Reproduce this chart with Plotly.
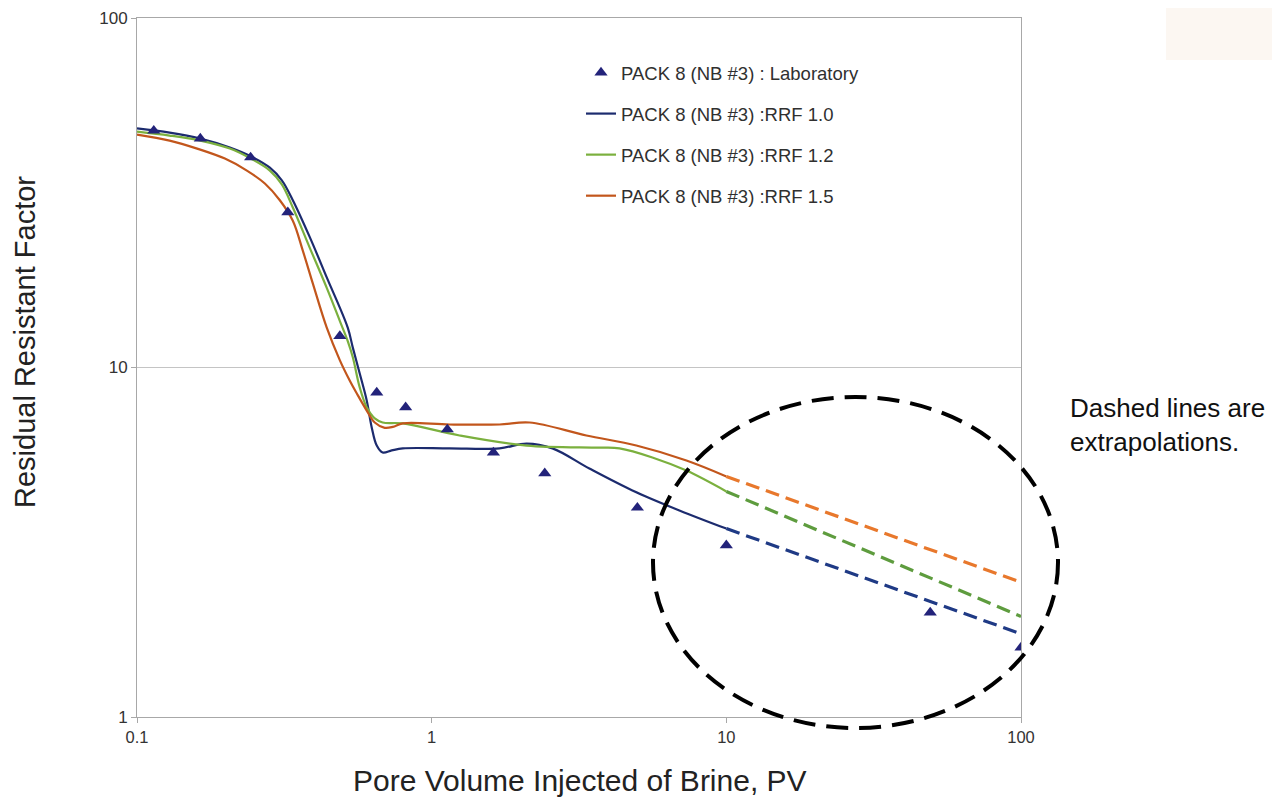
import plotly.graph_objects as go

# ---- data ----
lab_x = [0.114, 0.164, 0.243, 0.325, 0.488, 0.651, 0.816, 1.13, 1.62, 2.42, 4.99, 10.0, 49.2, 100.0]
lab_y = [47.6, 45.2, 39.9, 27.8, 12.3, 8.48, 7.69, 6.65, 5.71, 4.98, 3.97, 3.10, 1.99, 1.58]

rrf10_x = [0.1, 0.129, 0.164, 0.2066, 0.2434, 0.2824, 0.3101, 0.3379, 0.3858, 0.4405,
           0.519, 0.540, 0.570, 0.602, 0.626, 0.651, 0.682, 0.732, 0.798, 1.151, 1.70, 2.10,
           2.57, 3.43, 4.80, 6.93, 10.0]
rrf10_y = [48.3, 47.0, 45.2, 42.6, 40.2, 37.3, 34.3, 30.1, 23.6, 18.1,
           13.0, 11.4, 9.61, 8.05, 6.74, 5.98, 5.71, 5.79, 5.87, 5.87, 5.87, 6.06,
           5.87, 5.14, 4.45, 3.90, 3.46]

rrf12_x = [0.1, 0.129, 0.164, 0.2066, 0.2434, 0.2824, 0.3101, 0.3379, 0.3858, 0.4405, 0.4877,
           0.519, 0.540, 0.570, 0.602, 0.641, 0.682, 0.798, 1.244, 2.10, 3.71, 4.34, 5.61,
           7.32, 10.0]
rrf12_y = [47.3, 46.1, 44.6, 42.3, 39.6, 36.6, 33.4, 28.7, 22.0, 16.9, 13.6,
           11.9, 10.7, 8.77, 7.69, 7.15, 6.96, 6.92, 6.39, 5.98, 5.90, 5.87, 5.53,
           5.07, 4.42]

rrf15_x = [0.1, 0.129, 0.160, 0.1987, 0.236, 0.2716, 0.3053, 0.3379, 0.3653, 0.395, 0.4405,
           0.4877, 0.527, 0.557, 0.602, 0.641, 0.693, 0.738, 0.798, 1.151, 1.70, 2.15,
           3.35, 4.95, 7.32, 10.0]
rrf15_y = [46.4, 44.6, 42.3, 39.6, 36.6, 33.6, 30.1, 26.3, 21.6, 17.4, 13.0,
           10.5, 9.18, 8.43, 7.53, 6.96, 6.72, 6.76, 6.92, 6.87, 6.87, 6.96,
           6.39, 5.98, 5.42, 4.88]

ext_x = [10.0, 100.0]
ext10_y = [3.46, 1.73]
ext12_y = [4.42, 1.94]
ext15_y = [4.88, 2.43]

x_ticks = [0.1, 1, 10, 100]
x_tick_text = ["0.1", "1", "10", "100"]
y_ticks = [1, 10, 100]
y_tick_text = ["1", "10", "100"]

names = ["PACK 8 (NB #3) : Laboratory", "PACK 8 (NB #3) :RRF 1.0",
         "PACK 8 (NB #3) :RRF 1.2", "PACK 8 (NB #3) :RRF 1.5"]

# ---- style ----
C_LAB = "#23237a"
C10, C12, C15 = "#1c2b6e", "#7bb03e", "#c2561c"
C10D, C12D, C15D = "#1f3a85", "#5e9c3e", "#e8782c"

fig = go.Figure()

for x, y, c, nm, rank in [(rrf10_x, rrf10_y, C10, names[1], 2),
                          (rrf12_x, rrf12_y, C12, names[2], 3),
                          (rrf15_x, rrf15_y, C15, names[3], 4)]:
    fig.add_trace(go.Scatter(x=x, y=y, mode="lines", name=nm, legendgroup=nm,
                             legendrank=rank,
                             line=dict(color=c, width=2.2, shape="spline", smoothing=1.0)))

for y, c in [(ext10_y, C10D), (ext12_y, C12D), (ext15_y, C15D)]:
    fig.add_trace(go.Scatter(x=ext_x, y=y, mode="lines", showlegend=False,
                             line=dict(color=c, width=3.2, dash="14px,7px")))

fig.add_trace(go.Scatter(x=lab_x, y=lab_y, mode="markers", name=names[0],
                         legendgroup=names[0], legendrank=1,
                         marker=dict(symbol="triangle-up", size=11.5, color=C_LAB)))

# page has an 8px body margin; all positions below are given in page pixels
OFF = 8
W, H = 1272, 794
L, T = 129, 10
R = W - (1021 - OFF)
B = H - (717 - OFF)
pw, ph = W - L - R, H - T - B


def px(xp):
    return (xp - OFF - L) / pw


def py(yp):
    return (H - B - (yp - OFF)) / ph


fig.update_layout(
    width=W, height=H,
    margin=dict(l=L, r=R, t=T, b=B, pad=0, autoexpand=False),
    paper_bgcolor="white", plot_bgcolor="white",
    font=dict(family="Liberation Sans, Arial, sans-serif", color="#222222"),
    legend=dict(x=px(581), y=py(54), xanchor="left", yanchor="top",
                bgcolor="rgba(0,0,0,0)", font=dict(size=18.5, color="#303030"),
                traceorder="grouped", tracegroupgap=14),
    xaxis=dict(type="log", range=[-1, 2], tickvals=x_ticks, ticktext=x_tick_text,
               showgrid=False, showline=True, linecolor="#a8a8a8", linewidth=1,
               mirror=True, ticks="outside", ticklen=5, tickcolor="#a8a8a8",
               automargin=False,
               tickfont=dict(size=16.5, color="#333333"), zeroline=False),
    yaxis=dict(type="log", range=[0, 2], tickvals=y_ticks, ticktext=y_tick_text,
               showgrid=True, gridcolor="#c4c4c4", gridwidth=1,
               showline=True, linecolor="#a8a8a8", linewidth=1, mirror=True,
               ticks="outside", ticklen=5, tickcolor="#a8a8a8", automargin=False,
               tickfont=dict(size=17, color="#333333"), zeroline=False),
    showlegend=True,
)

# axis titles as annotations (positioned as in reference)
fig.add_annotation(text="Residual Resistant Factor", textangle=-90,
                   xref="paper", yref="paper", x=px(25), y=py(342),
                   xanchor="center", yanchor="middle", showarrow=False,
                   font=dict(size=29, color="#222222"))
fig.add_annotation(text="Pore Volume Injected of Brine, PV",
                   xref="paper", yref="paper", x=px(580), y=py(780),
                   xanchor="center", yanchor="middle", showarrow=False,
                   font=dict(size=30, color="#222222"))

# dashed ellipse around extrapolations
fig.add_shape(type="circle", xref="paper", yref="paper",
              x0=px(653), x1=px(1058), y0=py(728), y1=py(397),
              line=dict(color="black", width=4, dash="22px,11px"))

fig.add_annotation(text="Dashed lines are<br>extrapolations.", xref="paper", yref="paper",
                   x=px(1068), y=py(425), xanchor="left", yanchor="middle", align="left",
                   showarrow=False, font=dict(size=26, color="#111111"))

# faint beige rectangle top-right
fig.add_shape(type="rect", xref="paper", yref="paper",
              x0=px(1166), x1=px(1272), y0=py(60), y1=py(8),
              line=dict(width=0), fillcolor="#fcf7f2", layer="below")

fig.write_html("out.html")
